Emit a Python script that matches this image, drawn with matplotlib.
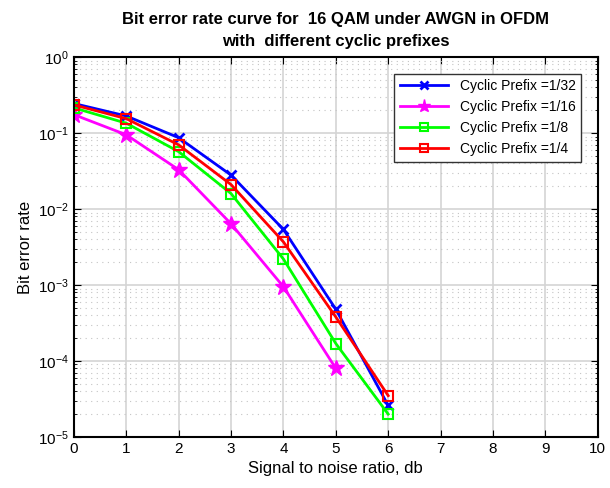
import matplotlib
matplotlib.use("Agg")
import matplotlib.pyplot as plt
import numpy as np

plt.rcParams["font.family"] = ["Liberation Sans", "DejaVu Sans"]

snr_a = [0, 1, 2, 3, 4, 5, 6]
snr_b = [0, 1, 2, 3, 4, 5]

ber_32 = [0.245, 0.168, 0.087, 0.028, 0.0054, 4.8e-4, 2.6e-5]
ber_16 = [0.175, 0.095, 0.033, 0.0064, 9.5e-4, 8.0e-5]
ber_8 = [0.215, 0.135, 0.057, 0.016, 0.0022, 1.7e-4, 2.0e-5]
ber_4 = [0.235, 0.155, 0.070, 0.021, 0.0037, 3.8e-4, 3.5e-5]

labels = ["Cyclic Prefix =1/32", "Cyclic Prefix =1/16", "Cyclic Prefix =1/8", "Cyclic Prefix =1/4"]
x_ticks = list(range(0, 11))

fig = plt.figure(figsize=(6.1, 4.88), dpi=100)
ax = fig.add_axes([0.121, 0.1045, 0.859, 0.7785])

ax.semilogy(snr_a, ber_32, color="#0000ff", marker="x", markersize=7, mew=2, linewidth=2, label=labels[0])
ax.semilogy(snr_b, ber_16, color="#ff00ff", marker="*", markersize=12, linewidth=2, label=labels[1])
ax.semilogy(snr_a, ber_8, color="#00ff00", marker="s", markersize=6.5, mfc="none", mew=1.5, linewidth=2, label=labels[2])
ax.semilogy(snr_a, ber_4, color="#ff0000", marker="s", markersize=7, mfc="none", mew=1.5, linewidth=2, label=labels[3])

ax.set_xlim(0, 10)
ax.set_ylim(1e-5, 1)
ax.set_xticks(x_ticks)
ax.grid(True, which="major", color="#d4d4d4", linestyle="-", linewidth=1.2)
ax.grid(True, which="minor", color="#c4c4c4", linestyle=(0, (1, 4)), linewidth=0.8)
ax.set_axisbelow(True)
ax.tick_params(which="both", direction="in", top=True, right=True, labelsize=11)
ax.tick_params(which="major", length=5)
ax.tick_params(which="minor", length=2.5)
for sp in ax.spines.values():
    sp.set_linewidth(1.5)

ax.set_xlabel("Signal to noise ratio, db", fontsize=12)
ax.set_ylabel("Bit error rate", fontsize=12)
ax.set_title("Bit error rate curve for  16 QAM under AWGN in OFDM\nwith  different cyclic prefixes",
             fontsize=12, fontweight="bold", linespacing=1.6, pad=8)

leg = ax.legend(loc="upper right", fontsize=10, fancybox=False, framealpha=1,
                edgecolor="#333333", handlelength=3.5, borderaxespad=1.2, markerscale=0.8)
leg.get_frame().set_linewidth(1)

fig.savefig("out.png", dpi=100)
